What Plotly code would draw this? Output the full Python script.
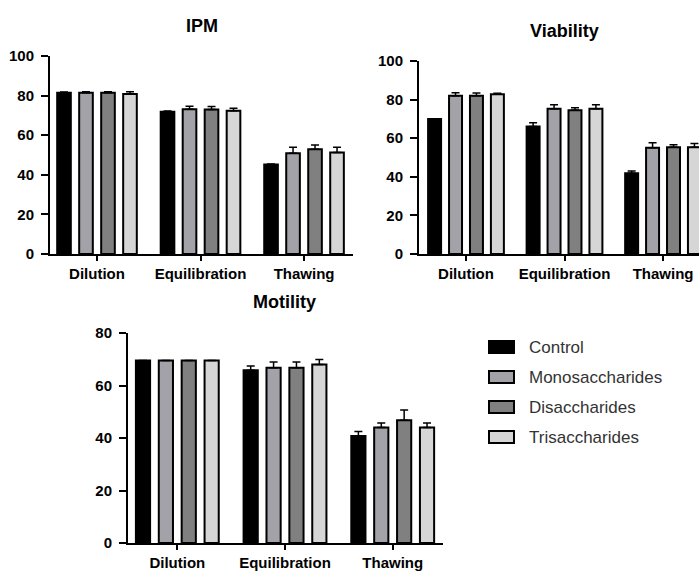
import plotly.graph_objects as go

stages = ["Dilution", "Equilibration", "Thawing"]
series = ["Control", "Monosaccharides", "Disaccharides", "Trisaccharides"]
colors = ["#000000", "#a2a2a8", "#808080", "#d6d6d6"]

ipm_vals = [[81.5, 71.9, 45.2], [81.5, 73.1, 50.9], [81.5, 73.0, 52.9], [80.8, 72.3, 51.2]]
ipm_err = [[0.3, 0.3, 0.3], [0.5, 1.5, 3.0], [0.5, 1.5, 2.1], [1.2, 1.3, 2.7]]

via_vals = [[70.0, 66.0, 41.8], [82.0, 75.3, 55.0], [82.0, 74.5, 55.3], [82.8, 75.3, 55.3]]
via_err = [[0.0, 2.0, 1.2], [1.6, 2.0, 2.7], [1.4, 1.3, 1.3], [0.5, 2.0, 2.0]]

mot_vals = [[69.5, 65.8, 40.8], [69.5, 66.8, 44.0], [69.5, 66.8, 46.8], [69.5, 68.0, 44.0]]
mot_err = [[0.0, 1.6, 1.7], [0.0, 2.2, 1.7], [0.0, 2.2, 3.9], [0.0, 1.9, 1.7]]

panels = [
    ("x", "y", ipm_vals, ipm_err),
    ("x2", "y2", via_vals, via_err),
    ("x3", "y3", mot_vals, mot_err),
]

fig = go.Figure()
for xa, ya, vals, errs in panels:
    for i, name in enumerate(series):
        fig.add_trace(go.Bar(
            x=stages, y=vals[i], name=name, xaxis=xa, yaxis=ya,
            marker=dict(color=colors[i], line=dict(color="black", width=2)),
            error_y=dict(type="data", symmetric=False, array=errs[i],
                         arrayminus=[0] * len(errs[i]), color="black",
                         thickness=1.5, width=4),
            showlegend=False,
        ))

tickfont = dict(family="Liberation Sans, Arial", size=15, color="black", weight="bold")
xcommon = dict(type="category", showline=True, linewidth=2, linecolor="black",
               ticks="outside", ticklen=5, tickwidth=2, tickcolor="black",
               showgrid=False, zeroline=False, tickfont=tickfont, automargin=False)
ycommon = dict(showline=True, linewidth=2, linecolor="black",
               ticks="outside", ticklen=7, tickwidth=2, tickcolor="black",
               showgrid=False, zeroline=False, tickfont=tickfont, dtick=20,
               ticklabelstandoff=4, automargin=False)

W, H = 699, 572
fig.update_layout(
    template="none",
    width=W, height=H, margin=dict(l=0, r=0, t=0, b=0, autoexpand=False),
    paper_bgcolor="white", plot_bgcolor="white",
    barmode="group", bargap=0.15, bargroupgap=0.38,
    xaxis=dict(xcommon, domain=[50 / W, 353 / W], range=[-0.454, 2.473], anchor="y"),
    yaxis=dict(ycommon, domain=[1 - 254 / H, 1 - 56 / H], range=[0, 100], anchor="x"),
    xaxis2=dict(xcommon, domain=[419 / W, 1.0], range=[-0.477, 2.365], anchor="y2"),
    yaxis2=dict(ycommon, domain=[1 - 254 / H, 1 - 61 / H], range=[0, 100], anchor="x2"),
    xaxis3=dict(xcommon, domain=[128 / W, 443 / W], range=[-0.458, 2.467], anchor="y3"),
    yaxis3=dict(ycommon, domain=[1 - 543 / H, 1 - 333 / H], range=[0, 80], anchor="x3"),
    showlegend=False,
)

titlefont = dict(family="Liberation Sans, Arial", size=18, color="black", weight="bold")
for text, px, py in [("IPM", 202, 26), ("Viability", 564, 31), ("Motility", 284, 302)]:
    fig.add_annotation(text=text, x=px / W, y=1 - py / H, xref="paper", yref="paper",
                       showarrow=False, font=titlefont, xanchor="center", yanchor="middle")

# legend (swatch + label per series)
legend_font = dict(family="Liberation Sans, Arial", size=17, color="#333333")
for i, name in enumerate(series):
    cy = 347 + 30 * i
    fig.add_shape(type="rect", xref="paper", yref="paper",
                  x0=489 / W, x1=514 / W, y0=1 - (cy + 6) / H, y1=1 - (cy - 6) / H,
                  fillcolor=colors[i], line=dict(color="black", width=2))
    fig.add_annotation(text=name, x=527 / W, y=1 - cy / H, xref="paper", yref="paper",
                       showarrow=False, font=legend_font, xanchor="left", yanchor="middle")

fig.write_html("out.html", config={"staticPlot": True},
               post_script="document.body.style.margin='0px';document.body.style.overflow='hidden';")
